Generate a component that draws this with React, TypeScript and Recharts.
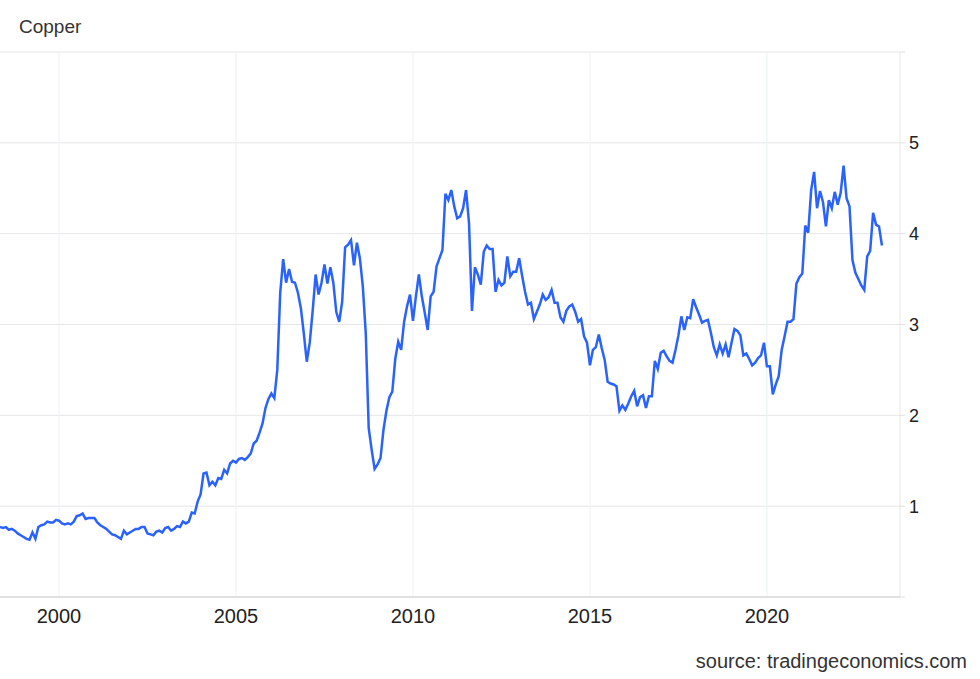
import React from 'react';
import { LineChart, Line, XAxis, YAxis, CartesianGrid } from 'recharts';

// Monthly copper price (USD/lb)
const y1998 = [0.77, 0.76, 0.77, 0.74, 0.75, 0.73, 0.70, 0.68]; // May–Dec
const y1999 = [0.66, 0.64, 0.63, 0.71, 0.64, 0.77, 0.79, 0.80, 0.83, 0.82, 0.82, 0.85];
const y2000 = [0.84, 0.81, 0.80, 0.81, 0.80, 0.83, 0.89, 0.90, 0.92, 0.86, 0.87, 0.87];
const y2001 = [0.87, 0.82, 0.79, 0.77, 0.75, 0.72, 0.69, 0.68, 0.66, 0.64, 0.73, 0.69];
const y2002 = [0.71, 0.73, 0.75, 0.75, 0.77, 0.77, 0.70, 0.69, 0.68, 0.72, 0.73, 0.71];
const y2003 = [0.76, 0.77, 0.73, 0.75, 0.78, 0.77, 0.83, 0.81, 0.83, 0.93, 0.92, 1.05];
const y2004 = [1.13, 1.36, 1.37, 1.23, 1.27, 1.23, 1.31, 1.30, 1.40, 1.36, 1.47, 1.50];
const y2005 = [1.48, 1.52, 1.53, 1.51, 1.54, 1.58, 1.69, 1.72, 1.81, 1.91, 2.08, 2.18];
const y2006 = [2.24, 2.19, 2.50, 3.35, 3.72, 3.46, 3.61, 3.47, 3.46, 3.35, 3.18, 2.90];
const y2007 = [2.59, 2.80, 3.15, 3.55, 3.33, 3.46, 3.66, 3.45, 3.63, 3.46, 3.14, 3.03];
const y2008 = [3.25, 3.85, 3.88, 3.93, 3.65, 3.90, 3.73, 3.42, 2.90, 1.86, 1.62, 1.41];
const y2009 = [1.46, 1.53, 1.84, 2.05, 2.20, 2.26, 2.62, 2.81, 2.72, 3.03, 3.20, 3.33];
const y2010 = [3.04, 3.31, 3.55, 3.31, 3.13, 2.94, 3.31, 3.36, 3.64, 3.73, 3.82, 4.44];
const y2011 = [4.37, 4.48, 4.30, 4.17, 4.19, 4.28, 4.48, 4.12, 3.15, 3.63, 3.55, 3.44];
const y2012 = [3.80, 3.87, 3.83, 3.83, 3.36, 3.49, 3.43, 3.46, 3.75, 3.53, 3.58, 3.58];
const y2013 = [3.73, 3.54, 3.36, 3.22, 3.24, 3.06, 3.14, 3.22, 3.33, 3.27, 3.30, 3.38];
const y2014 = [3.24, 3.24, 3.08, 3.03, 3.15, 3.20, 3.22, 3.14, 3.03, 3.06, 2.87, 2.80];
const y2015 = [2.55, 2.72, 2.75, 2.89, 2.74, 2.61, 2.37, 2.35, 2.34, 2.32, 2.05, 2.11];
const y2016 = [2.06, 2.13, 2.21, 2.27, 2.10, 2.20, 2.22, 2.08, 2.21, 2.21, 2.60, 2.51];
const y2017 = [2.69, 2.71, 2.65, 2.60, 2.58, 2.72, 2.88, 3.09, 2.94, 3.08, 3.07, 3.28];
const y2018 = [3.19, 3.11, 3.02, 3.04, 3.05, 2.91, 2.75, 2.66, 2.78, 2.68, 2.78, 2.64];
const y2019 = [2.80, 2.95, 2.93, 2.88, 2.66, 2.68, 2.62, 2.55, 2.58, 2.63, 2.66, 2.80];
const y2020 = [2.54, 2.54, 2.23, 2.34, 2.43, 2.72, 2.87, 3.03, 3.03, 3.06, 3.45, 3.52];
const y2021 = [3.56, 4.09, 4.01, 4.48, 4.68, 4.28, 4.47, 4.35, 4.08, 4.37, 4.28, 4.46];
const y2022 = [4.32, 4.45, 4.75, 4.39, 4.30, 3.71, 3.57, 3.50, 3.43, 3.38, 3.75, 3.81];
const y2023 = [4.23, 4.10, 4.08, 3.87]; // Jan–Apr

// [year, first month (1-12), monthly values]
const yearRows: [number, number, number[]][] = [
  [1998, 5, y1998], [1999, 1, y1999], [2000, 1, y2000], [2001, 1, y2001],
  [2002, 1, y2002], [2003, 1, y2003], [2004, 1, y2004], [2005, 1, y2005],
  [2006, 1, y2006], [2007, 1, y2007], [2008, 1, y2008], [2009, 1, y2009],
  [2010, 1, y2010], [2011, 1, y2011], [2012, 1, y2012], [2013, 1, y2013],
  [2014, 1, y2014], [2015, 1, y2015], [2016, 1, y2016], [2017, 1, y2017],
  [2018, 1, y2018], [2019, 1, y2019], [2020, 1, y2020], [2021, 1, y2021],
  [2022, 1, y2022], [2023, 1, y2023],
];

const xTicks = [2000, 2005, 2010, 2015, 2020];
const yTicks = [0, 1, 2, 3, 4, 5, 6];
const xDomain: [number, number] = [1998.333, 2023.76];
const yDomain: [number, number] = [0, 6];

const data = yearRows.flatMap(([year, first, vals]) =>
  vals.map((v, k) => ({ t: year + (first - 1 + k) / 12, price: v }))
);

const FONT = '"Liberation Sans", Arial, Helvetica, sans-serif';

export default function App() {
  return (
    <div
      style={{
        position: 'absolute',
        left: 0,
        top: 0,
        width: 980,
        height: 679,
        background: '#fff',
        fontFamily: FONT,
      }}
    >
      <div
        style={{
          position: 'absolute',
          left: 19,
          top: 17,
          fontSize: 19,
          lineHeight: '20px',
          color: '#333',
        }}
      >
        Copper
      </div>
      <LineChart
        width={980}
        height={679}
        data={data}
        margin={{ top: 52, right: 20, bottom: 52, left: 0 }}
        style={{ fontFamily: FONT }}
      >
        <CartesianGrid horizontal={true} vertical={false} stroke="#e6e6e6" strokeWidth={1} syncWithTicks />
        <CartesianGrid horizontal={false} vertical={true} stroke="#edf1f6" strokeWidth={1} syncWithTicks />
        <XAxis
          dataKey="t"
          type="number"
          domain={xDomain}
          ticks={xTicks}
          allowDataOverflow
          height={30}
          axisLine={{ stroke: '#e0e0e0', strokeWidth: 2 }}
          tickLine={false}
          tickSize={6}
          tickMargin={6}
          tick={{ fill: '#222', fontSize: 20, fontFamily: FONT }}
          tickFormatter={(v: number) => String(Math.round(v))}
          interval={0}
        />
        <YAxis
          orientation="right"
          type="number"
          domain={yDomain}
          ticks={yTicks}
          width={60}
          axisLine={{ stroke: '#e6e6e6' }}
          tickLine={{ stroke: '#e0e0e0' }}
          tickSize={5}
          tickMargin={4}
          tick={{ fill: '#222', fontSize: 18, fontFamily: FONT }}
          tickFormatter={(v: number) => (v === 0 || v === 6 ? '' : String(v))}
          interval={0}
        />
        <Line
          type="linear"
          dataKey="price"
          stroke="#2962ff"
          strokeWidth={2.5}
          dot={false}
          activeDot={false}
          isAnimationActive={false}
        />
      </LineChart>
      <div
        style={{
          position: 'absolute',
          right: 13,
          top: 651,
          fontSize: 20,
          lineHeight: '20px',
          color: '#333',
          whiteSpace: 'nowrap',
        }}
      >
        source: tradingeconomics.com
      </div>
    </div>
  );
}
